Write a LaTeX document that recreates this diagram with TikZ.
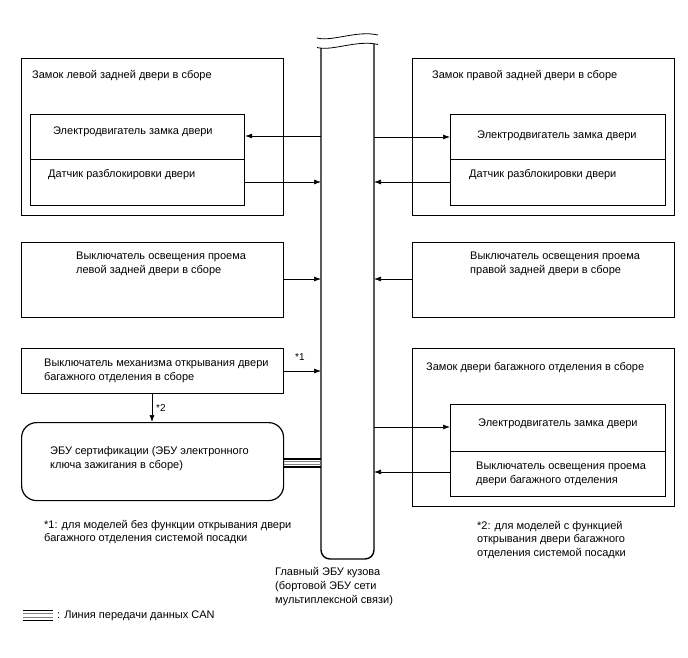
\documentclass[tikz,border=0pt]{standalone}
\usepackage{fontspec}
\setmainfont{Liberation Sans}
\usetikzlibrary{arrows.meta}
\tikzset{
  box/.style={draw, line width=1.2pt, inner sep=0pt, anchor=north west},
  txt/.style={anchor=west, inner sep=0pt, align=left, font=\fontsize{11}{13.8}\selectfont},
  arr/.style={line width=0.7pt, -{Latex[length=7pt,width=5pt]}},
  busline/.style={line width=1.4pt},
}
\begin{document}
\begin{tikzpicture}[x=1pt,y=-1pt]
\useasboundingbox (0,0) rectangle (688,658);
% bus (main body ECU)
\draw[busline, rounded corners=9] (321,48) -- (321,559) -- (374,559) -- (374,44);
\draw[line width=0.8pt] (317,38) .. controls (332,42) and (357,30) .. (378,35);
\draw[line width=0.8pt] (317,47.5) .. controls (332,51.5) and (357,39.5) .. (378,44.5);
\coordinate (bL1) at (321,136); \coordinate (bL2) at (321,182);
\coordinate (bL3) at (321,279); \coordinate (bL4) at (321,371);
\coordinate (bR1) at (374,137); \coordinate (bR2) at (374,182);
\coordinate (bR3) at (374,279); \coordinate (bR4) at (374,427);
\coordinate (bR5) at (374,472);

% left rear door lock
\node[box, minimum width=262, minimum height=157] (llock) at (21,58) {};
\node[box, minimum width=214, minimum height=45] (lmot) at (30,114) {};
\node[box, minimum width=214, minimum height=46] (lsen) at (30,159) {};
\node[txt] (tllock) at (32,76) {Замок левой задней двери в сборе};
\node[txt] (tlmot) at (53,131.5) {Электродвигатель замка двери};
\node[txt] (tlsen) at (48,174.5) {Датчик разблокировки двери};

% right rear door lock
\node[box, minimum width=262, minimum height=157] (rlock) at (412,58) {};
\node[box, minimum width=215, minimum height=45] (rmot) at (450,114) {};
\node[box, minimum width=215, minimum height=46] (rsen) at (450,159) {};
\node[txt] (trlock) at (432,76) {Замок правой задней двери в сборе};
\node[txt] (trmot) at (477,135.5) {Электродвигатель замка двери};
\node[txt] (trsen) at (469,174.5) {Датчик разблокировки двери};

% courtesy switches
\node[box, minimum width=262, minimum height=75] (lsw) at (21,242) {};
\node[txt] (tlsw) at (76,263.5) {Выключатель освещения проема\\левой задней двери в сборе};
\node[box, minimum width=262, minimum height=75] (rsw) at (412,242) {};
\node[txt] (trsw) at (470,263.5) {Выключатель освещения проема\\правой задней двери в сборе};

% back door opener switch
\node[box, minimum width=262, minimum height=45] (bdsw) at (21,348) {};
\node[txt] (tbdsw) at (44,370.5) {Выключатель механизма открывания двери\\багажного отделения в сборе};

% certification ECU
\node[box, rounded corners=15, minimum width=262, minimum height=78] (cert) at (21,422) {};
\node[txt] (tcert) at (50,459) {ЭБУ сертификации (ЭБУ электронного\\ключа зажигания в сборе)};

% back door lock
\node[box, minimum width=262, minimum height=158] (block) at (412,348) {};
\node[box, minimum width=215, minimum height=47] (bmot) at (450,404) {};
\node[box, minimum width=215, minimum height=45] (bsw) at (450,451) {};
\node[txt] (tblock) at (426,367.5) {Замок двери багажного отделения в сборе};
\node[txt] (tbmot) at (478,423.5) {Электродвигатель замка двери};
\node[txt] (tbsw) at (476,473.5) {Выключатель освещения проема\\двери багажного отделения};

% arrows
\draw[arr] (bL1) -- (lmot.east |- bL1);
\draw[arr] (lsen.east |- bL2) -- (bL2);
\draw[arr] (bR1) -- (rmot.west |- bR1);
\draw[arr] (rsen.west |- bR2) -- (bR2);
\draw[arr] (lsw.east |- bL3) -- (bL3);
\draw[arr] (rsw.west |- bR3) -- (bR3);
\draw[arr] (bdsw.east |- bL4) -- (bL4);
\draw[arr] (bR4) -- (bmot.west |- bR4);
\draw[arr] (bsw.west |- bR5) -- (bR5);
\coordinate (dtop) at (152,393);
\draw[arr] (dtop) -- (dtop |- cert.north);
\node[txt, font=\fontsize{10}{11}\selectfont] (s1) at (295,357) {*1};
\node[txt, font=\fontsize{10}{11}\selectfont] (s2) at (156,408) {*2};

% CAN line
\draw[line width=1.5pt] (cert.east |- 0,459) -- (321,459);
\draw[line width=1.5pt] (cert.east |- 0,467) -- (321,467);
\draw[line width=0.6pt, gray] (cert.east |- 0,461.7) -- (321,461.7);
\draw[line width=0.6pt, gray] (cert.east |- 0,464.3) -- (321,464.3);

% footnotes and labels
\node[txt] (fn1) at (44,532) {*1: для моделей без функции открывания двери\\багажного отделения системой посадки};
\node[txt] (fn2) at (477,540) {*2: для моделей с функцией\\открывания двери багажного\\отделения системой посадки};
\node[txt] (tbus) at (275,586.5) {Главный ЭБУ кузова\\(бортовой ЭБУ сети\\мультиплексной связи)};

% legend
\draw[line width=1.8pt] (22.5,610.5) -- (53,610.5);
\draw[line width=1.8pt] (22.5,620.5) -- (53,620.5);
\draw[line width=0.7pt, gray] (22.5,613.8) -- (53,613.8);
\draw[line width=0.7pt, gray] (22.5,617.2) -- (53,617.2);
\node[txt] (tleg) at (57,616) {: Линия передачи данных CAN};
\end{tikzpicture}
\end{document}
